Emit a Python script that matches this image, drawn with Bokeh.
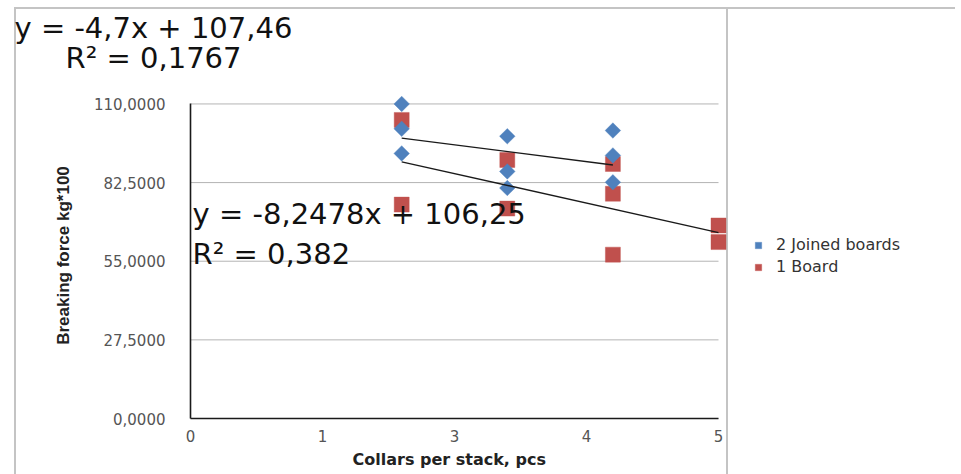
import numpy as np
from bokeh.plotting import figure
from bokeh.models import (ColumnDataSource, FixedTicker, Legend, LegendItem,
                          Label, Title, Range1d)
from bokeh.embed import file_html
from bokeh.resources import INLINE

# ---------------- data ----------------
joined_x = [2, 2, 2, 3, 3, 3, 4, 4, 4]
joined_y = [110.0, 101.3, 92.7, 98.7, 86.4, 80.6, 100.7, 92.0, 82.6]
board_x = [2, 2, 3, 3, 4, 4, 4, 5, 5]
board_y = [104.4, 74.8, 90.4, 73.4, 89.0, 78.6, 57.3, 67.5, 61.7]
joined_trend = [-4.7, 107.46]      # slope, intercept
board_trend = [-8.2478, 106.25]
series_names = ["2 Joined boards", "1 Board"]
x_ticks = [0.0, 1.25, 2.5, 3.75, 5.0]
x_tick_labels = ["0", "1", "3", "4", "5"]
y_ticks = [0.0, 27.5, 55.0, 82.5, 110.0]
y_tick_labels = ["0,0000", "27,5000", "55,0000", "82,5000", "110,0000"]
eq_joined = ["y = -4,7x + 107,46", "R² = 0,1767"]
eq_board = ["y = -8,2478x + 106,25", "R² = 0,382"]
x_title = "Collars per stack, pcs"
y_title = "Breaking force kg*100"

BLUE = "#4f81bd"
RED = "#c0504d"
GRAYLINE = "#c4c4c4"

W, H = 955, 474
LEFT, RIGHT, TOP, BOTTOM = 190, 6, 92, 56
PX_PER_X = 105.6                      # axis 0..5 spans 528 px
x_end = (W - LEFT - RIGHT) / PX_PER_X  # frame extends right to hold the legend

p = figure(width=W, height=H,
           x_range=Range1d(0, x_end), y_range=Range1d(0, 114),
           output_backend="svg", toolbar_location=None,
           min_border_left=LEFT, min_border_right=RIGHT, min_border_top=TOP,
           min_border_bottom=BOTTOM)
p.outline_line_color = None
p.background_fill_alpha = 0
p.border_fill_alpha = 0
# light-gray chart-area frame lines drawn as the page background
g = f"linear-gradient({GRAYLINE},{GRAYLINE})"
p.styles = {"background": (f"{g} 14px 7px / 2px 100% no-repeat, "
                           f"{g} 14px 7px / 100% 2px no-repeat, "
                           f"{g} 726px 7px / 2px 100% no-repeat, #ffffff")}

# grid (horizontal lines only over the axis span)
p.xgrid.grid_line_color = None
p.ygrid.grid_line_color = None
p.segment(x0=[x_ticks[0]] * len(y_ticks), x1=[x_ticks[-1]] * len(y_ticks),
          y0=y_ticks, y1=y_ticks, line_color="#b4b4b4", line_width=1)

# axes
p.xaxis.ticker = FixedTicker(ticks=x_ticks)
p.xaxis.major_label_overrides = dict(zip(x_ticks, x_tick_labels))
p.xaxis.bounds = (x_ticks[0], x_ticks[-1])
p.yaxis.ticker = FixedTicker(ticks=y_ticks)
p.yaxis.major_label_overrides = dict(zip(y_ticks, y_tick_labels))
p.yaxis.bounds = (y_ticks[0], y_ticks[-1])
for ax in (p.xaxis, p.yaxis):
    ax.axis_line_color = "#1a1a1a"
    ax.axis_line_width = 1.6
    ax.major_tick_out = 0
    ax.major_tick_in = 0
    ax.minor_tick_out = 0
    ax.minor_tick_in = 0
    ax.major_label_text_font = "DejaVu Sans"
    ax.major_label_text_font_size = "15px"
    ax.major_label_text_color = "#555555"
p.yaxis.major_label_standoff = 25
p.xaxis.major_label_standoff = 11

p.yaxis.axis_label = y_title
p.yaxis.axis_label_text_font = "Liberation Sans"
p.yaxis.axis_label_text_font_style = "bold"
p.yaxis.axis_label_text_font_size = "17px"
p.yaxis.axis_label_text_color = "#222222"
p.yaxis.axis_label_standoff = 18

# x-axis title, centred under the 0..5 axis span
p.add_layout(Title(text=x_title, align="left", offset=162, standoff=6,
                   vertical_align="bottom", text_font="DejaVu Sans",
                   text_font_size="16px", text_font_style="bold",
                   text_color="#222222"), "below")

# scatter
src_b = ColumnDataSource(dict(x=board_x, y=board_y))
src_j = ColumnDataSource(dict(x=joined_x, y=joined_y))
r_board = p.scatter("x", "y", source=src_b, marker="square", size=15,
                    fill_color=RED, line_color=RED, line_alpha=0.4)
r_joined = p.scatter("x", "y", source=src_j, marker="square", angle=np.pi / 4,
                     size=11, fill_color=BLUE, line_color=BLUE, line_alpha=0.4)

# trend lines from the fitted equations
for xs, (m, b) in ((joined_x, joined_trend), (board_x, board_trend)):
    tx = np.array([min(xs), max(xs)], dtype=float)
    p.line(tx, m * tx + b, line_color="#1a1a1a", line_width=1.4)

# legend (inside the extended frame, right of the axis span)
legend = Legend(items=[LegendItem(label=series_names[0], renderers=[r_joined]),
                       LegendItem(label=series_names[1], renderers=[r_board])],
                location=(560, 142))
legend.border_line_color = None
legend.background_fill_alpha = 0
legend.padding = 0
legend.margin = 0
legend.spacing = 3
legend.glyph_width = 16
legend.glyph_height = 16
legend.label_standoff = 10
legend.label_text_font = "DejaVu Sans"
legend.label_text_font_size = "16px"
legend.label_text_color = "#333333"
p.add_layout(legend, "center")

# equation of the joined-boards trend (above the plot)
p.add_layout(Title(text=eq_joined[1], align="left", offset=-125, standoff=36,
                   text_font="DejaVu Sans", text_font_size="29px",
                   text_font_style="normal", text_color="#111111"), "above")
p.add_layout(Title(text=eq_joined[0], align="left", offset=-176, standoff=-48,
                   text_font="DejaVu Sans", text_font_size="29px",
                   text_font_style="normal", text_color="#111111"), "above")

# equation of the one-board trend (inside the plot)
lab_style = dict(text_font="DejaVu Sans", text_font_size="29px",
                 text_color="#111111", text_baseline="alphabetic")
p.add_layout(Label(x=0.02, y=71.6, text=eq_board[0], **lab_style))
p.add_layout(Label(x=0.02, y=57.6, text=eq_board[1], **lab_style))

open("out.html", "w").write(file_html(p, INLINE))
